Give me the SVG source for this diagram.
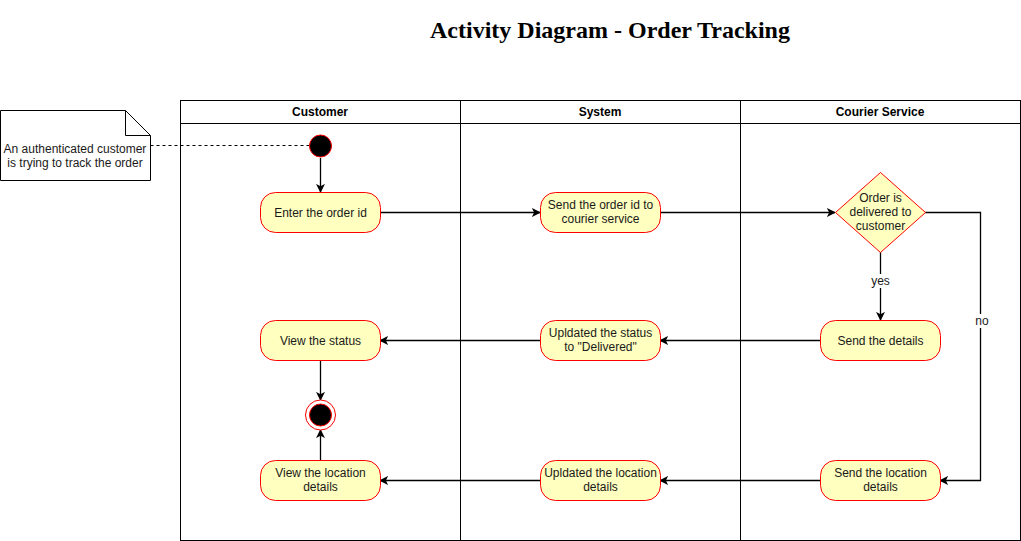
<svg xmlns="http://www.w3.org/2000/svg" width="1021" height="541" viewBox="0 0 1021 541">
<style>
.t{font-family:"Liberation Sans",Arial,sans-serif;font-size:12px;fill:#1a1a1a;text-anchor:middle}
.h{font-family:"Liberation Sans",Arial,sans-serif;font-size:12px;font-weight:bold;fill:#000;text-anchor:middle}
.act{fill:#ffffc0;stroke:#ff0000;stroke-width:1}
.ln{fill:none;stroke:#000;stroke-width:1}
.c{fill:none;stroke:#000;stroke-width:1.3}
</style>
<defs>
<marker id="arr" viewBox="0 0 10 10" refX="9" refY="5" markerWidth="9" markerHeight="9" markerUnits="userSpaceOnUse" orient="auto">
<path d="M0,0 L10,5 L0,10 L2.5,5 Z" fill="#000"/>
</marker>
</defs>
<rect width="1021" height="541" fill="#fff"/>
<text x="610" y="38" font-family="Liberation Serif,'Times New Roman',serif" font-size="24" font-weight="bold" text-anchor="middle" fill="#000">Activity Diagram - Order Tracking</text>
<g id="lanes">
<rect x="180.5" y="100.5" width="840" height="440" class="ln"/>
<line x1="180.5" y1="123.5" x2="1020.5" y2="123.5" class="ln"/>
<line x1="460.5" y1="100.5" x2="460.5" y2="540.5" class="ln"/>
<line x1="740.5" y1="100.5" x2="740.5" y2="540.5" class="ln"/>
<text x="320" y="116" class="h">Customer</text>
<text x="600" y="116" class="h">System</text>
<text x="880" y="116" class="h">Courier Service</text>
</g>
<g id="note">
<path d="M0.5,110.5 H125.5 L150.5,135.5 V180.5 H0.5 Z" fill="#fff" stroke="#000"/>
<path d="M125.5,110.5 V135.5 H150.5" fill="none" stroke="#000"/>
<text x="75" y="153" class="t">An authenticated customer</text>
<text x="75" y="167" class="t">is trying to track the order</text>
</g>
<g id="connectors">
<line x1="150.5" y1="145.5" x2="309" y2="145.5" stroke="#000" stroke-dasharray="3,3"/>
<line x1="320.5" y1="158" x2="320.5" y2="192" class="c" marker-end="url(#arr)"/>
<line x1="380" y1="212.5" x2="540" y2="212.5" class="c" marker-end="url(#arr)"/>
<line x1="660" y1="212.5" x2="835" y2="212.5" class="c" marker-end="url(#arr)"/>
<line x1="880.5" y1="252" x2="880.5" y2="320" class="c" marker-end="url(#arr)"/>
<rect x="869" y="274" width="23" height="14" fill="#fff"/>
<text x="880.5" y="285" class="t">yes</text>
<polyline points="925,212.5 980.5,212.5 980.5,480.5 940,480.5" class="c" marker-end="url(#arr)"/>
<rect x="973" y="314" width="18" height="14" fill="#fff"/>
<text x="982" y="325" class="t">no</text>
<line x1="820" y1="340.5" x2="660" y2="340.5" class="c" marker-end="url(#arr)"/>
<line x1="540" y1="340.5" x2="380" y2="340.5" class="c" marker-end="url(#arr)"/>
<line x1="820" y1="480.5" x2="660" y2="480.5" class="c" marker-end="url(#arr)"/>
<line x1="540" y1="480.5" x2="380" y2="480.5" class="c" marker-end="url(#arr)"/>
<line x1="320.5" y1="360" x2="320.5" y2="400" class="c" marker-end="url(#arr)"/>
<line x1="320.5" y1="460" x2="320.5" y2="430" class="c" marker-end="url(#arr)"/>
</g>
<g id="start"><circle cx="320.5" cy="146" r="11" fill="#000" stroke="#ff0000"/></g>
<g id="enter-order"><rect x="260.5" y="192.5" width="120" height="40" rx="15" class="act"/><text x="320.5" y="216.5" class="t">Enter the order id</text></g>
<g id="send-order"><rect x="540.5" y="192.5" width="120" height="40" rx="15" class="act"/><text x="600.5" y="209" class="t">Send the order id to</text><text x="600.5" y="223" class="t">courier service</text></g>
<g id="decision"><path d="M880.5,172.5 L925.5,212.5 L880.5,252.5 L835.5,212.5 Z" class="act"/><text x="880.5" y="202" class="t">Order is</text><text x="880.5" y="216" class="t">delivered to</text><text x="880.5" y="230" class="t">customer</text></g>
<g id="send-details"><rect x="820.5" y="320.5" width="120" height="40" rx="15" class="act"/><text x="880.5" y="344.5" class="t">Send the details</text></g>
<g id="updated-status"><rect x="540.5" y="320.5" width="120" height="40" rx="15" class="act"/><text x="600.5" y="337" class="t">Upldated the status</text><text x="600.5" y="351" class="t">to "Delivered"</text></g>
<g id="view-status"><rect x="260.5" y="320.5" width="120" height="40" rx="15" class="act"/><text x="320.5" y="344.5" class="t">View the status</text></g>
<g id="end"><circle cx="320.5" cy="415" r="15" fill="#fff" stroke="#ff0000"/><circle cx="320.5" cy="415" r="11" fill="#000" stroke="#ff0000"/></g>
<g id="send-location"><rect x="820.5" y="460.5" width="120" height="40" rx="15" class="act"/><text x="880.5" y="477" class="t">Send the location</text><text x="880.5" y="491" class="t">details</text></g>
<g id="updated-location"><rect x="540.5" y="460.5" width="120" height="40" rx="15" class="act"/><text x="600.5" y="477" class="t">Upldated the location</text><text x="600.5" y="491" class="t">details</text></g>
<g id="view-location"><rect x="260.5" y="460.5" width="120" height="40" rx="15" class="act"/><text x="320.5" y="477" class="t">View the location</text><text x="320.5" y="491" class="t">details</text></g>
</svg>
